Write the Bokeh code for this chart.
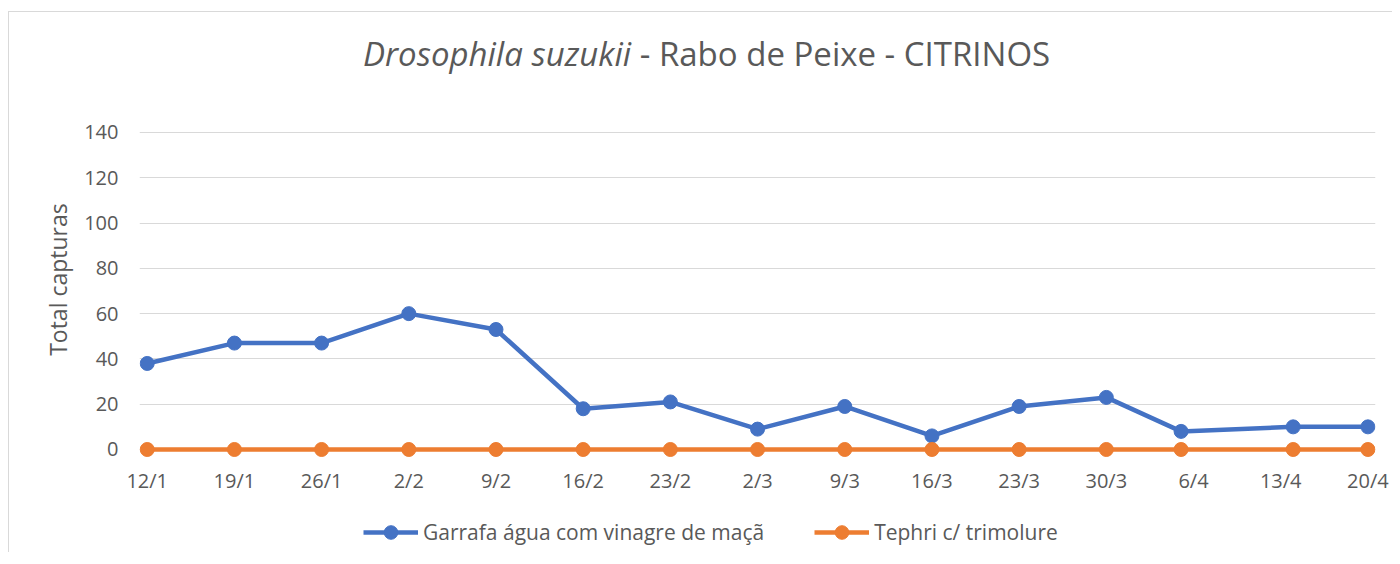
import pandas as pd
from bokeh.plotting import figure
from bokeh.layouts import column
from bokeh.models import (ColumnDataSource, FixedTicker, Legend, LegendItem, Range1d, Div)
from bokeh.embed import file_html
from bokeh.resources import INLINE

# ---- data ----
sample_dates = ["2021-01-12", "2021-01-19", "2021-01-26", "2021-02-02", "2021-02-09",
                "2021-02-16", "2021-02-23", "2021-03-02", "2021-03-09", "2021-03-16",
                "2021-03-23", "2021-03-30", "2021-04-05", "2021-04-14", "2021-04-20"]
garrafa = [38, 47, 47, 60, 53, 18, 21, 9, 19, 6, 19, 23, 8, 10, 10]
tephri = [0, 0, 0, 0, 0, 0, 0, 0, 0, 0, 0, 0, 0, 0, 0]
tick_dates = ["2021-01-12", "2021-01-19", "2021-01-26", "2021-02-02", "2021-02-09",
              "2021-02-16", "2021-02-23", "2021-03-02", "2021-03-09", "2021-03-16",
              "2021-03-23", "2021-03-30", "2021-04-06", "2021-04-13", "2021-04-20"]
tick_labels = ["12/1", "19/1", "26/1", "2/2", "9/2", "16/2", "23/2", "2/3", "9/3",
               "16/3", "23/3", "30/3", "6/4", "13/4", "20/4"]
series_names = ["Garrafa água com vinagre de maçã", "Tephri c/ trimolure"]
title_italic = "Drosophila suzukii"
title_rest = " - Rabo de Peixe - CITRINOS"
y_label = "Total capturas"
y_ticks = [0, 20, 40, 60, 80, 100, 120, 140]

base = pd.Timestamp(sample_dates[0])
x_days = [(pd.Timestamp(d) - base).days for d in sample_dates]
tick_days = [(pd.Timestamp(d) - base).days for d in tick_dates]

FONT = "Open Sans"
TXT = "#595959"
BLUE = "#4472C4"
ORANGE = "#ED7D31"
W = 1383

title = Div(
    text=(f'<div style="padding-left:354px; padding-top:25px; font-family:\'Open Sans\'; '
          f'font-size:33px; line-height:1; color:{TXT}; white-space:nowrap;">'
          f'<i>{title_italic}</i>{title_rest}</div>'),
    width=W, height=100, margin=0)

p = figure(width=W, height=396, output_backend="svg", toolbar_location=None,
           x_range=Range1d(-0.62, 98.61), y_range=Range1d(-3.975, 140.88),
           min_border_left=130, min_border_right=17, min_border_top=18,
           min_border_bottom=50, margin=0)
p.outline_line_color = None
p.background_fill_color = "white"
p.border_fill_color = "white"

src = ColumnDataSource(dict(x=x_days, g=garrafa, t=tephri))

p.line("x", "g", source=src, line_color=BLUE, line_width=4.5)
p.scatter("x", "g", source=src, size=14, fill_color=BLUE, line_color=BLUE)
p.line("x", "t", source=src, line_color=ORANGE, line_width=4.5)
p.scatter("x", "t", source=src, size=14, fill_color=ORANGE, line_color=ORANGE)

# axes
p.xaxis.ticker = FixedTicker(ticks=tick_days)
p.xaxis.major_label_overrides = {d: l for d, l in zip(tick_days, tick_labels)}
p.yaxis.ticker = FixedTicker(ticks=y_ticks)
for ax in (p.xaxis, p.yaxis):
    ax.axis_line_color = None
    ax.major_tick_line_color = None
    ax.minor_tick_line_color = None
    ax.major_label_text_font = FONT
    ax.major_label_text_font_size = "20px"
    ax.major_label_text_color = TXT
p.xaxis.major_label_standoff = 2
p.yaxis.major_label_standoff = 15
# leading no-break spaces nudge the centred (rotated) label upward, as in the reference
p.yaxis.axis_label = "\u00a0" * 5 + y_label
p.yaxis.axis_label_text_font = FONT
p.yaxis.axis_label_text_font_size = "23px"
p.yaxis.axis_label_text_font_style = "normal"
p.yaxis.axis_label_text_color = TXT
p.yaxis.axis_label_standoff = 7

p.xgrid.grid_line_color = None
p.ygrid.grid_line_color = "#D9D9D9"
p.ygrid.grid_line_width = 1

# legend strip (separate small figure, legend glyphs styled like the series)
lg = figure(width=W, height=44, output_backend="svg", toolbar_location=None,
            x_range=Range1d(0, 1), y_range=Range1d(0, 1),
            min_border=0, margin=0)
lg.axis.visible = False
lg.grid.visible = False
lg.outline_line_color = None
lg.background_fill_color = "white"
lg.border_fill_color = "white"
l1 = lg.line([-5, -4], [-5, -4], line_color=BLUE, line_width=4.5)
s1 = lg.scatter([-5], [-5], size=14, fill_color=BLUE, line_color=BLUE)
l2 = lg.line([-5, -4], [-5, -4], line_color=ORANGE, line_width=4.5)
s2 = lg.scatter([-5], [-5], size=14, fill_color=ORANGE, line_color=ORANGE)
legend = Legend(items=[LegendItem(label=series_names[0], renderers=[l1, s1]),
                       LegendItem(label=series_names[1], renderers=[l2, s2])],
                location=(224, 3), orientation="horizontal",
                glyph_width=55, glyph_height=34, label_standoff=5, spacing=50,
                padding=0, margin=0, border_line_color=None,
                background_fill_alpha=0,
                label_text_font=FONT, label_text_font_size="21px",
                label_text_color=TXT, label_height=20)
lg.add_layout(legend, "center")

layout = column(title, p, lg, spacing=0,
                styles={"border-left": "1px solid #D9D9D9",
                        "border-top": "1px solid #D9D9D9",
                        "margin-top": "11px", "margin-left": "8px"})

open("out.html", "w").write(file_html(layout, INLINE))
